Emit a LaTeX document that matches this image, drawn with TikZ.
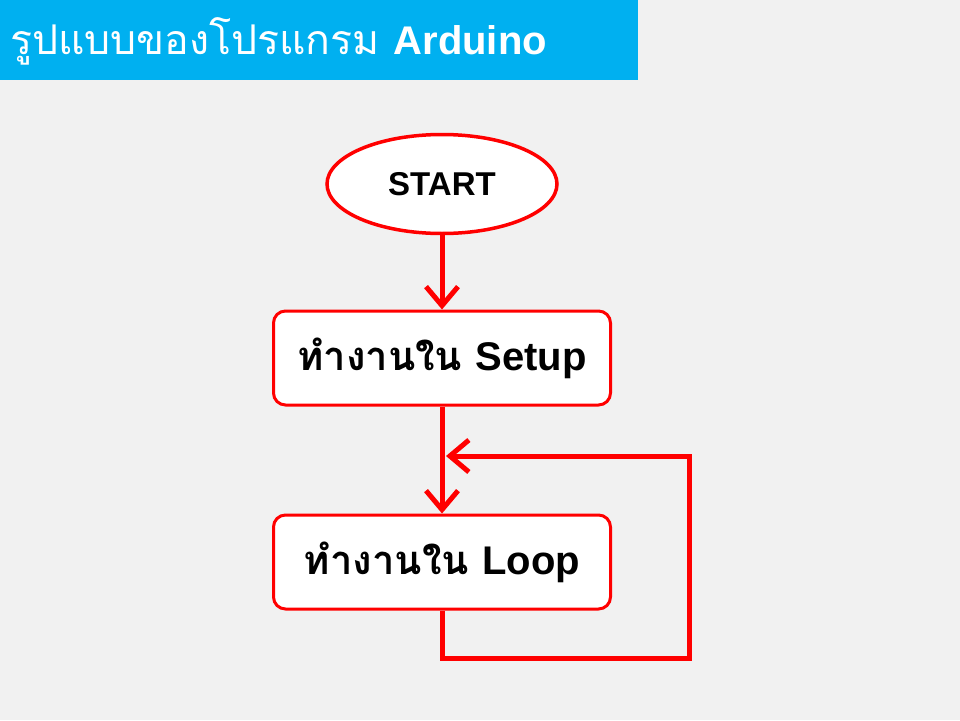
\documentclass[tikz,border=0pt]{standalone}
\usepackage{fontspec}
\usetikzlibrary{shapes.geometric,arrows.meta}
\newfontfamily\thaifont[Script=Thai]{Loma}
\newfontfamily\latfont{Liberation Sans}
\definecolor{titlebar}{HTML}{00B0F0}
\definecolor{bg}{HTML}{F1F1F1}
\definecolor{flowred}{HTML}{FF0000}
\tikzset{
  startbox/.style={ellipse, draw=flowred, line width=3.5pt, fill=white, minimum width=230pt, minimum height=99pt, inner sep=0pt, font=\latfont\bfseries\fontsize{33}{38}\selectfont},
  stepbox/.style={rectangle, rounded corners=12pt, draw=flowred, line width=3pt, fill=white, minimum width=337pt, minimum height=94pt, inner sep=0pt},
  arr/.style={draw=flowred, line width=5pt, -{Straight Barb[length=19pt,width=32pt,line width=5pt]}},
}
\begin{document}
\begin{tikzpicture}[x=1pt,y=-1pt]
\useasboundingbox (0,0) rectangle (960,720);
\fill[bg] (0,0) rectangle (960,720);
\fill[titlebar] (0,0) rectangle (638,80);
\node[anchor=base west, inner sep=0pt, text=white] (title) at (10,54)
  {\thaifont\fontsize{41}{44}\selectfont รูปแบบของโปรแกรม \latfont\bfseries\fontsize{40}{44}\selectfont Arduino};
\node[startbox] (start) at (442,184) {START};
\node[stepbox] (setup) at (442,358) {\thaifont\bfseries\fontsize{40}{44}\selectfont ทำงานใน \latfont\bfseries\fontsize{40}{44}\selectfont Setup};
\node[stepbox] (loop) at (442,562) {\thaifont\bfseries\fontsize{40}{44}\selectfont ทำงานใน \latfont\bfseries\fontsize{40}{44}\selectfont Loop};
\coordinate (c2) at (689,658);
\coordinate (c3) at (689,456);
\coordinate (c4) at (446,456);
\draw[arr] (start.south) -- (setup.north);
\draw[arr] (setup.south) -- (loop.north);
\draw[arr, line join=miter] (loop.south) |- (c2) -- (c3) -- (c4);
\end{tikzpicture}
\end{document}
